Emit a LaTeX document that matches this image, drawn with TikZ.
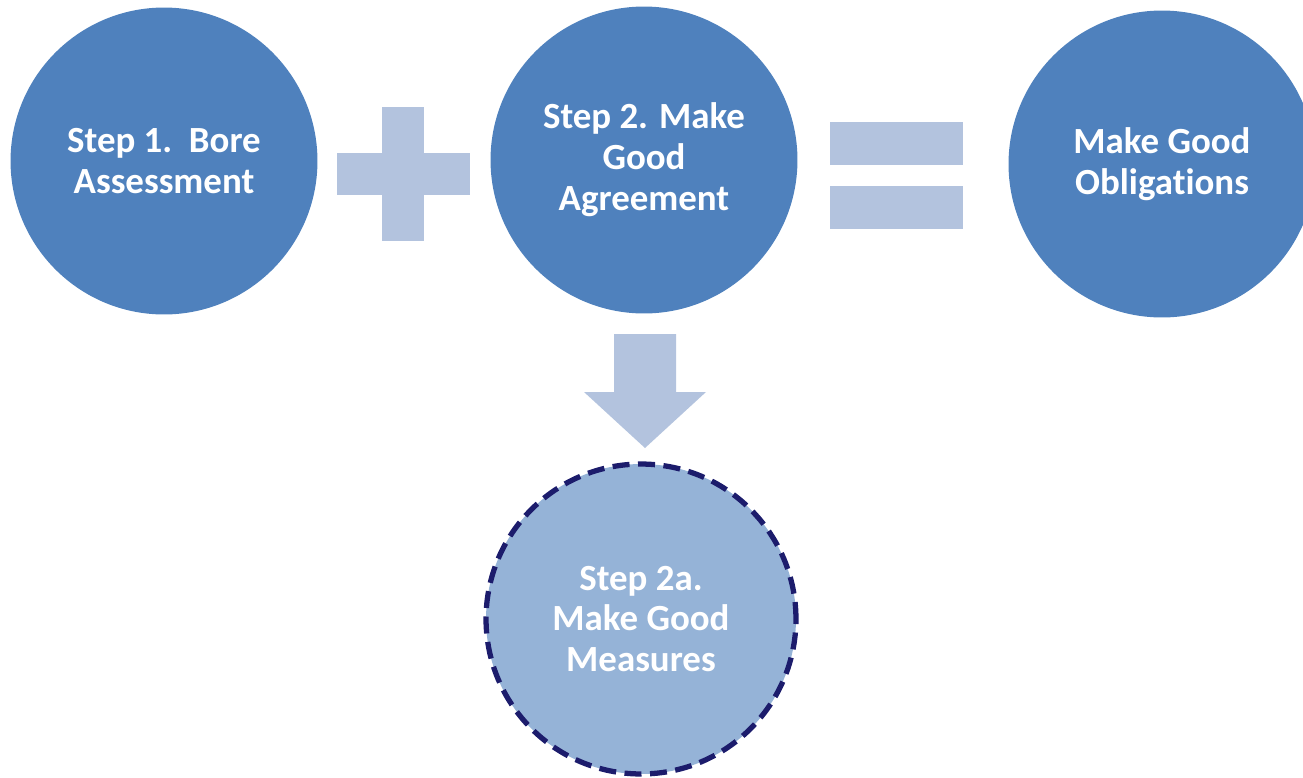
\documentclass[tikz,border=0pt]{standalone}
\usepackage{fontspec}
\setmainfont{Carlito}[Ligatures={NoCommon}]
\definecolor{circblue}{HTML}{4F81BD}
\definecolor{lightblue}{HTML}{B3C3DE}
\definecolor{paleblue}{HTML}{95B3D7}
\definecolor{navy}{RGB}{28,28,108}
\tikzset{
  stepcirc/.style={circle, fill=circblue, minimum size=6.14cm, inner sep=0pt,
    text=white, font=\bfseries\fontsize{21pt}{23.3pt}\selectfont, align=center},
  subcirc/.style={stepcirc, fill=paleblue, draw=navy, line width=3pt,
    dash pattern=on 0.34cm off 0.17cm, minimum size=6.2cm},
  symbar/.style={fill=lightblue}
}
\begin{document}
\begin{tikzpicture}[x=0.02cm,y=-0.02cm]
\useasboundingbox (0,0) rectangle (1303,778);
\clip (0,0) rectangle (1303,778);
\node[stepcirc] (s1) at (164,161) {Step 1.\ \ Bore\\Assessment};
\node[stepcirc] (s2) at (644,160) {Step 2. Make\\Good\\Agreement};
\node[stepcirc] (ob) at (1162,164) {Make Good\\Obligations};
\node[subcirc] (s2a) at (641,619) {Step 2a.\\Make Good\\Measures};
% plus
\fill[symbar] (337,153) rectangle (470,195);
\fill[symbar] (382,107) rectangle (424,241);
% equals
\fill[symbar] (830,122) rectangle (963,165);
\fill[symbar] (830,186) rectangle (963,229);
% down arrow
\fill[symbar] (614,334) -- (676,334) -- (676,392) -- (706,392) -- (645,448)
  -- (584,392) -- (614,392) -- cycle;
\end{tikzpicture}
\end{document}
